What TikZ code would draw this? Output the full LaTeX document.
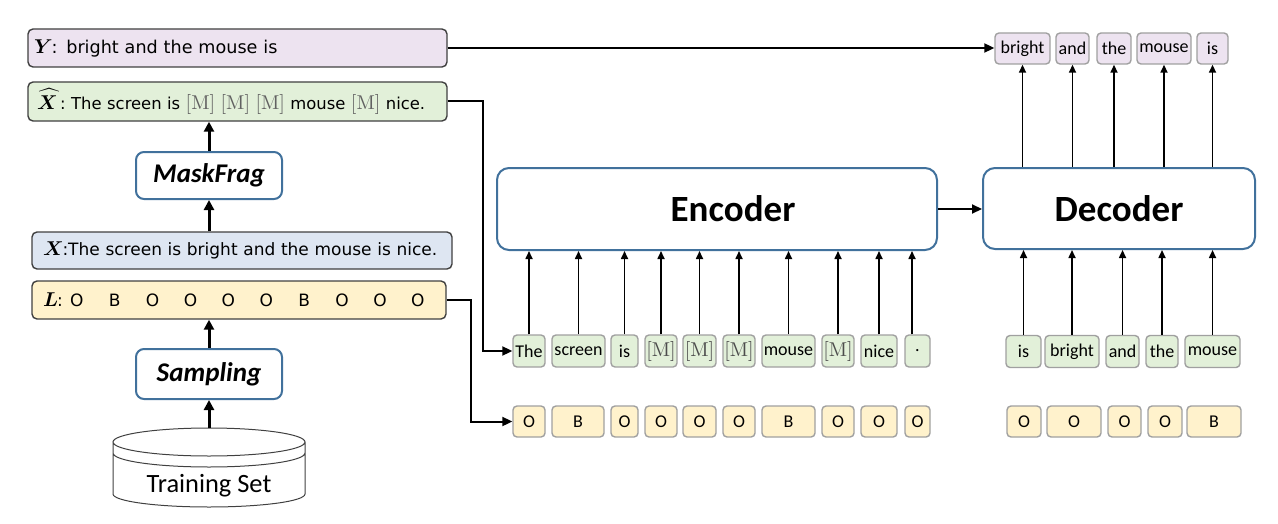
\documentclass[tikz,border=0pt]{standalone}
\usepackage{amsmath}
\usepackage{bm}
\usepackage[no-math]{fontspec}
\setmainfont{Carlito}
\newfontfamily\vsans{DejaVu Sans}
\usetikzlibrary{arrows.meta}
\definecolor{tgreen}{HTML}{E2F0D9}
\definecolor{tyellow}{HTML}{FFF2CC}
\definecolor{tpurple}{HTML}{EDE3F0}
\definecolor{lblue}{HTML}{DEE6F2}
\definecolor{tokline}{HTML}{A0A0A0}
\definecolor{lline}{HTML}{404040}
\definecolor{bline}{HTML}{41719C}
\newcommand\masktok{{\fontsize{10}{11}\selectfont\textcolor{black!62}{$[\mathrm{M}]$}}}
\newcommand\masktokb{{\fontsize{10}{11}\selectfont\textcolor{black!70}{$[\mathrm{M}]$}}}
\newcommand\bigmath[1]{{\fontsize{10.2}{11}\selectfont$\bm{#1}$}}
\begin{document}
\begin{tikzpicture}[x=0.5pt,y=-0.5pt,
 tok/.style={draw=tokline, line width=0.7pt, rounded corners=2pt, inner sep=0pt, minimum height=16pt, font=\fontsize{9}{10}\selectfont},
 tg/.style={tok, fill=tgreen, minimum width=#1},
 ty/.style={tok, fill=tyellow, minimum width=#1, minimum height=15.5pt},
 tp/.style={tok, fill=tpurple, minimum width=#1, minimum height=15.5pt},
 lbox/.style={draw=lline, line width=0.7pt, rounded corners=2.5pt, inner ysep=0pt, align=left, font=\vsans\fontsize{8.5}{10}\selectfont},
 bluebox/.style={draw=bline, line width=1pt, fill=white},
 thinarrow/.style={line width=0.8pt, -{Triangle[length=4pt,width=3.5pt]}},
 midarrow/.style={line width=1pt, -{Triangle[length=5pt,width=4.5pt]}},
 thickarrow/.style={line width=1.5pt, -{Triangle[length=5pt,width=5pt]}},
]
\useasboundingbox (0,0) rectangle (1278,524);

% ---------- left column ----------
\node[lbox, fill=tpurple, inner xsep=3pt, text width=203.5pt, minimum height=19pt, font=\vsans\fontsize{8.8}{10}\selectfont] (yb) at (237.5,48)
  {\mbox{\bigmath{Y}\kern-0.5pt: bright and the mouse is}};
\node[lbox, fill=tgreen, inner xsep=4.5pt, text width=200.5pt, minimum height=19.5pt, font=\vsans\fontsize{8.2}{10}\selectfont] (xh) at (237.5,101.5)
  {\mbox{\bigmath{\widehat{X}}\,:\ The screen is \masktok\ \masktok\ \masktok\ mouse \masktok\ nice.}};
\node[bluebox, rounded corners=4pt, minimum width=73pt, minimum height=23.5pt, font=\bfseries\itshape\fontsize{13.5}{15}\selectfont] (mf) at (209,175.5) {MaskFrag};
\node[lbox, fill=lblue, inner xsep=5.5pt, text width=199pt, minimum height=18.5pt] (xb) at (242,250.5)
  {\mbox{\bigmath{X}\kern-0.5pt:The screen is bright and the mouse is nice.}};
\node[lbox, fill=tyellow, inner xsep=5.5pt, text width=196pt, minimum height=19pt] (lb) at (239,300)
  {\mbox{\bigmath{L}\kern-0.5pt:\hspace*{-2.5pt}\makebox[18.95pt]{O}\makebox[18.95pt]{B}\makebox[18.95pt]{O}\makebox[18.95pt]{O}\makebox[18.95pt]{O}\makebox[18.95pt]{O}\makebox[18.95pt]{B}\makebox[18.95pt]{O}\makebox[18.95pt]{O}\makebox[18.95pt]{O}}};
\node[bluebox, rounded corners=4pt, minimum width=73pt, minimum height=25pt, font=\bfseries\itshape\fontsize{13.5}{15}\selectfont] (samp) at (209,374) {Sampling};

% database
\draw[line width=0.5pt, draw=black!75]
  (209,442) ellipse [x radius=48pt, y radius=7pt]
  (113,453) arc[start angle=180, end angle=360, x radius=48pt, y radius=7pt]
  (113,442) -- (113,494) arc[start angle=180, end angle=360, x radius=48pt, y radius=6.5pt] -- (305,442);
\node[font=\fontsize{13.2}{15}\selectfont, inner sep=0pt] (ts) at (209,486) {Training Set};
\coordinate (dbtop) at (209,428);

\draw[thickarrow] (dbtop) -- (samp.south);
\draw[thickarrow] (samp.north) -- (samp.north |- lb.south);
\draw[thickarrow] (mf.south |- xb.north) -- (mf.south);
\draw[thickarrow] (mf.north) -- (mf.north |- xh.south);

% ---------- encoder side ----------
\node[bluebox, rounded corners=6pt, minimum width=220pt, minimum height=41pt, font=\bfseries\fontsize{18.5}{20}\selectfont] (enc) at (717,209) {\hspace*{16pt}Encoder};
\node[bluebox, rounded corners=6pt, minimum width=136pt, minimum height=40.5pt, font=\bfseries\fontsize{18.5}{20}\selectfont] (dec) at (1119,208.5) {Decoder};

\node[tg=16pt]   (e1)  at (529,351)   {The};
\node[tg=26.5pt] (e2)  at (578.5,351) {screen};
\node[tg=13.5pt] (e3)  at (624.5,351) {is};
\node[tg=16pt]   (e4)  at (661,351)   {\masktokb};
\node[tg=16.5pt] (e5)  at (699.5,351) {\masktokb};
\node[tg=16pt]   (e6)  at (739,351)   {\masktokb};
\node[tg=26.5pt] (e7)  at (788.5,351) {mouse};
\node[tg=16pt]   (e8)  at (838,351)   {\masktokb};
\node[tg=18pt]   (e9)  at (879,351)   {nice};
\node[tg=12.5pt] (e10) at (917.5,351) {.};

\node[ty=16pt]   (l1)  at (529,421.5)   {O};
\node[ty=26pt]   (l2)  at (578,421.5)   {B};
\node[ty=13.5pt] (l3)  at (624.5,421.5) {O};
\node[ty=16pt]   (l4)  at (661,421.5)   {O};
\node[ty=16.5pt] (l5)  at (699.5,421.5) {O};
\node[ty=16pt]   (l6)  at (739,421.5)   {O};
\node[ty=26.5pt] (l7)  at (788.5,421.5) {B};
\node[ty=16pt]   (l8)  at (838,421.5)   {O};
\node[ty=18pt]   (l9)  at (879,421.5)   {O};
\node[ty=12.5pt] (l10) at (917.5,421.5) {O};

\foreach \t in {e1,e2,e3,e4,e5,e6,e7,e8,e9}
  \draw[thinarrow] (\t.north) -- (\t.north |- enc.south);
\draw[thinarrow] ([xshift=-2.75pt]e10.north) -- ([xshift=-2.75pt]e10.north |- enc.south);

% ---------- decoder side ----------
\node[tg=17.5pt] (d1) at (1023.5,351.5) {is};
\node[tg=27pt]   (d2) at (1072,351.5)   {bright};
\node[tg=16.5pt] (d3) at (1122.5,351.5) {and};
\node[tg=16pt]   (d4) at (1162,351.5)   {the};
\node[tg=27.5pt] (d5) at (1212.5,351.5) {mouse};

\node[ty=17pt]   (m1) at (1024,421.5)   {O};
\node[ty=27pt]   (m2) at (1074,421.5)   {O};
\node[ty=16.5pt] (m3) at (1124.5,421.5) {O};
\node[ty=17pt]   (m4) at (1165,421.5)   {O};
\node[ty=27pt]   (m5) at (1214,421.5)   {B};

\foreach \t in {d1,d2,d3,d4,d5}
  \draw[thinarrow] (\t.north) -- (\t.north |- dec.south);

\node[tp=27.5pt] (o1) at (1022.5,48.5) {bright};
\node[tp=16.5pt] (o2) at (1072.5,48.5) {and};
\node[tp=17pt]   (o3) at (1114,48.5)   {the};
\node[tp=27pt]   (o4) at (1164,48.5)   {mouse};
\node[tp=15.5pt] (o5) at (1212.5,48.5) {is};

\foreach \t in {o1,o2,o3,o4,o5}
  \draw[thinarrow] (\t.south |- dec.north) -- (\t.south);

% ---------- connectors ----------
\coordinate (jx) at (483,101.5);
\coordinate (jl) at (471,300);
\draw[midarrow] (xh.east) -- (jx) |- (e1.west);
\draw[midarrow] (lb.east) -- (jl) |- (l1.west);
\draw[midarrow] (yb.east) -- (yb.east -| o1.west);
\draw[midarrow] (enc.east) -- (enc.east -| dec.west);
\end{tikzpicture}
\end{document}
